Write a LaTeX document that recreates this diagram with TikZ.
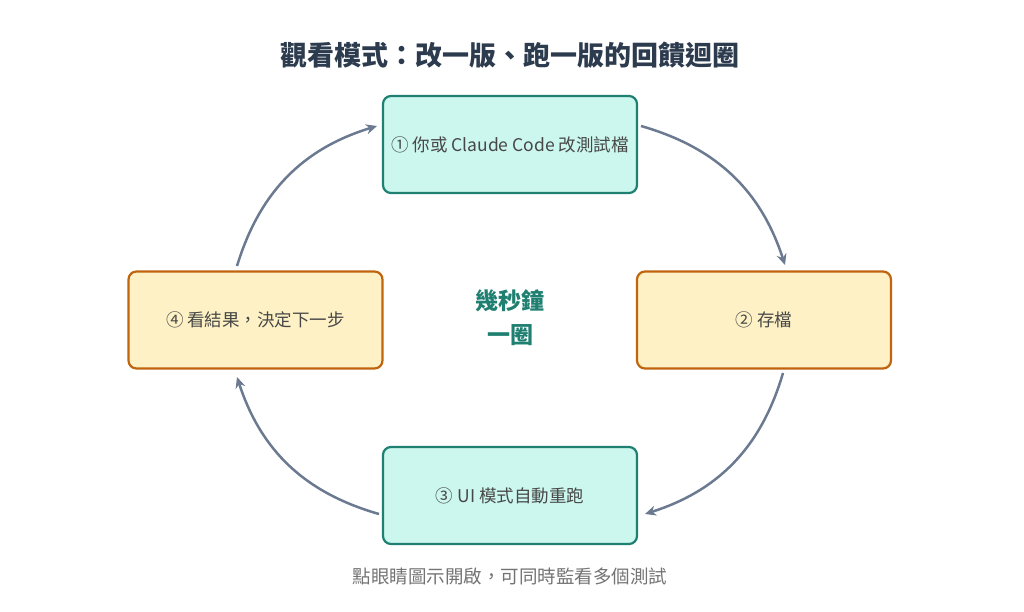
\documentclass[tikz,border=0pt]{standalone}
\usepackage{fontspec}
\setmainfont{Noto Sans CJK TC}
\usetikzlibrary{arrows.meta}
\definecolor{mint}{HTML}{CCF7EE}
\definecolor{teal}{HTML}{1F7F70}
\definecolor{cream}{HTML}{FDF1C5}
\definecolor{brn}{HTML}{C0640E}
\definecolor{arr}{HTML}{6B7A90}
\definecolor{ttl}{HTML}{2D3B4E}
\begin{document}
\begin{tikzpicture}[x=1pt,y=-1pt,
 box/.style={draw,line width=2.2pt,rounded corners=8pt,minimum width=254pt,minimum height=97pt,font=\fontsize{17.5}{20}\selectfont,text=black!72},
 g/.style={box,fill=mint,draw=teal},
 o/.style={box,fill=cream,draw=brn},
 ar/.style={draw=arr,line width=2.5pt,-{Stealth[length=11pt,width=10pt]}}]
\useasboundingbox (0,0) rectangle (1024,612);
\node[font=\bfseries\fontsize{27}{30}\selectfont,text=ttl] (t) at (510,55) {觀看模式：改一版、跑一版的回饋迴圈};
\node[g] (a) at (510,144.5) {① 你或 Claude Code 改測試檔};
\node[o] (b) at (764,320) {② 存檔};
\node[g] (c) at (510,495.5) {③ UI 模式自動重跑};
\node[o] (d) at (255.5,320) {④ 看結果，決定下一步};
\node[font=\bfseries\fontsize{23}{34}\selectfont,text=teal,align=center] (m) at (510,318) {幾秒鐘\\一圈};
\node[font=\fontsize{18.5}{20}\selectfont,text=black!55] (f) at (510,577) {點眼睛圖示開啟，可同時監看多個測試};
\coordinate (a1) at (641,126); \coordinate (b1) at (785,265);
\coordinate (b2) at (783,373); \coordinate (c1) at (645,514);
\coordinate (c2) at (379,514); \coordinate (d1) at (237,377);
\coordinate (d2) at (237,266); \coordinate (a2) at (377,126);
\draw[ar] (a1) to[bend left=28] (b1);
\draw[ar] (b2) to[bend left=28] (c1);
\draw[ar] (c2) to[bend left=28] (d1);
\draw[ar] (d2) to[bend left=28] (a2);
\end{tikzpicture}
\end{document}
